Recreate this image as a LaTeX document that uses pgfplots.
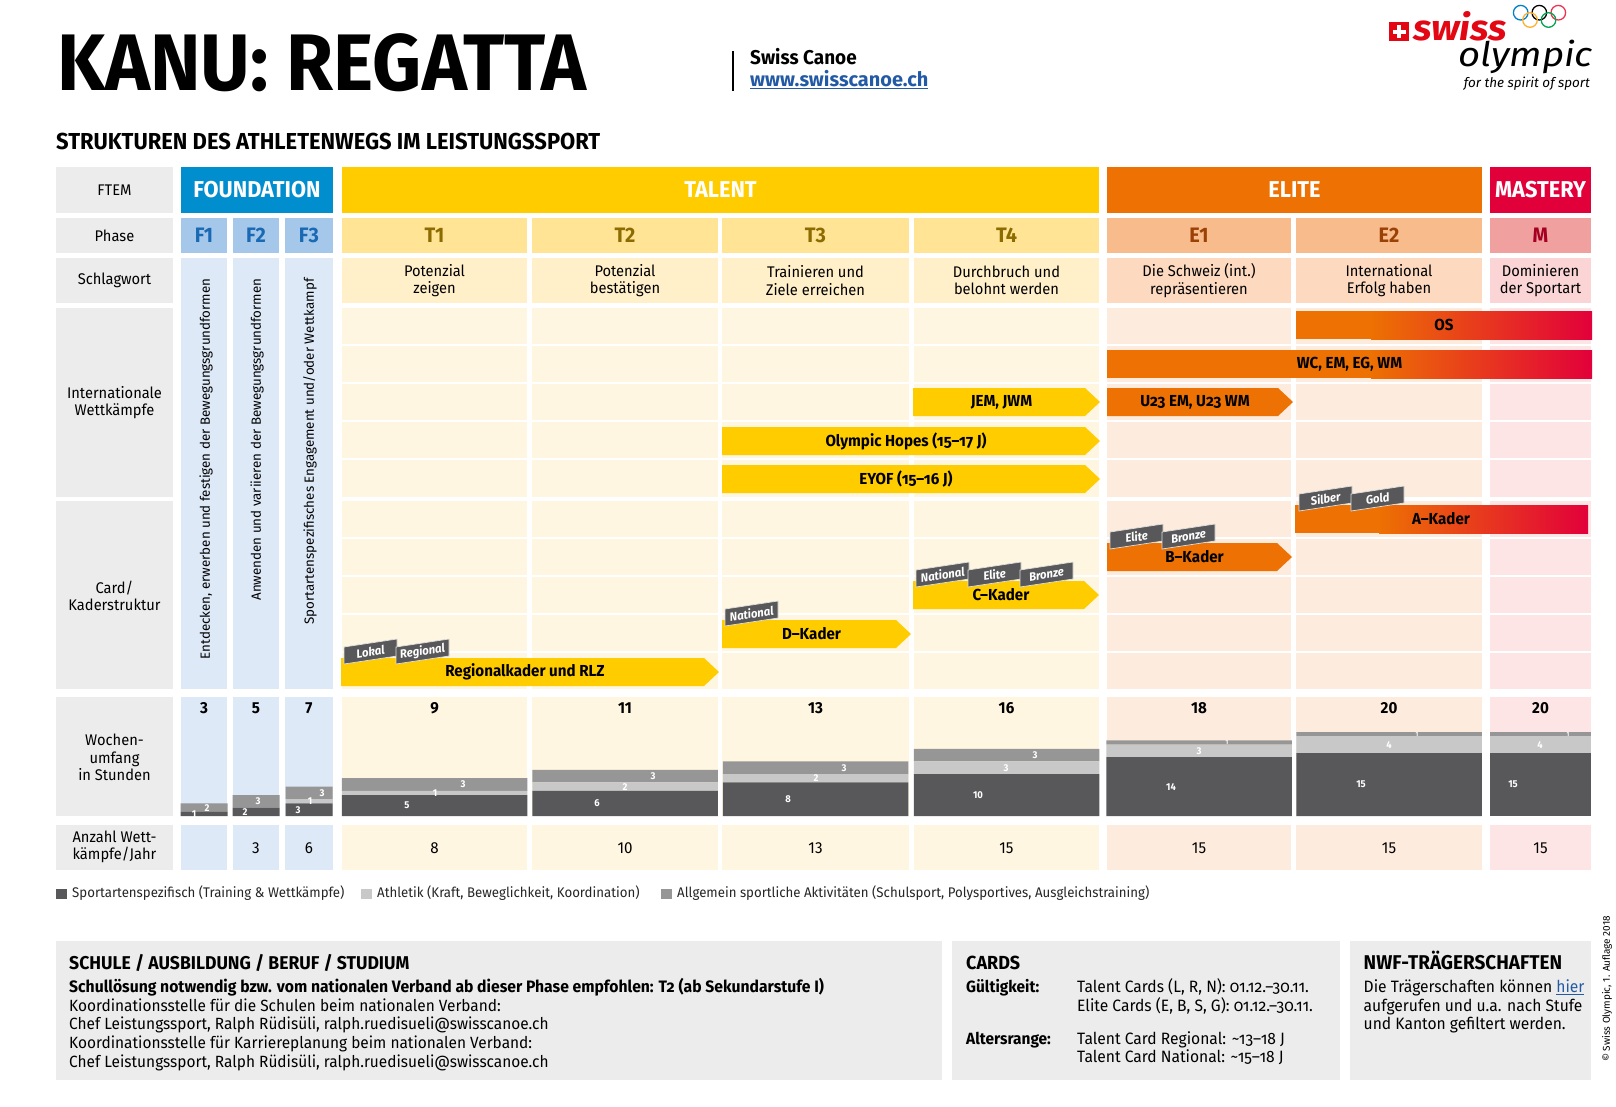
\documentclass[border=0pt]{standalone}
\usepackage{pgfplots}
\pgfplotsset{compat=1.18}
\usepackage{pgfplotstable}
\usepackage{fontspec}
\setmainfont{Fira Sans}[FakeStretch=0.95]
\newfontfamily\plainfont{Fira Sans}
\newcommand{\fsz}[2]{\fontsize{#1}{#2}\selectfont}
\newcommand{\osn}{\addfontfeature{Numbers=OldStyle}}

\definecolor{hdrgray}{RGB}{236,236,236}
\definecolor{fblue}{RGB}{0,142,207}
\definecolor{phF}{RGB}{165,200,234}
\definecolor{bgF}{RGB}{221,233,247}
\definecolor{txF}{RGB}{25,105,180}
\definecolor{tyel}{RGB}{255,204,0}
\definecolor{phT}{RGB}{255,228,150}
\definecolor{swT}{RGB}{255,240,202}
\definecolor{bgT}{RGB}{255,246,225}
\definecolor{txT}{RGB}{140,108,0}
\definecolor{eor}{RGB}{237,113,3}
\definecolor{phE}{RGB}{248,187,140}
\definecolor{swE}{RGB}{253,218,191}
\definecolor{bgE}{RGB}{253,236,222}
\definecolor{txE}{RGB}{155,65,5}
\definecolor{mred}{RGB}{226,0,58}
\definecolor{phM}{RGB}{241,160,160}
\definecolor{swM}{RGB}{251,213,213}
\definecolor{bgM}{RGB}{253,229,229}
\definecolor{txM}{RGB}{165,0,35}
\definecolor{cspec}{RGB}{88,88,90}
\definecolor{cath}{RGB}{200,200,200}
\definecolor{cgen}{RGB}{150,150,150}
\definecolor{tagc}{RGB}{88,88,90}
\definecolor{linkblue}{RGB}{35,90,165}
\definecolor{boxgray}{RGB}{236,236,236}
\definecolor{swissred}{RGB}{227,6,19}

% weekly hours per phase: x = column centre (px), hours per category
\pgfplotstableread{
x     spec ath gen
204   1    0   2
256   2    0   3
309   3    1   3
}\Fdata
\pgfplotstableread{
x      spec ath gen
434.5  5    1   3
625    6    2   3
815.5  8    2   3
1006.5 10   3   3
1199   14   3   1
1389   15   4   1
}\TEdata
\pgfplotstableread{
x      spec ath gen
1540.5 15   4   1
}\Mdata

\newcommand{\arrfont}{\fsz{16}{16}\bfseries\osn}
\newcommand{\arr}[6]{%
  \fill[#1] (#2,#4) -- ({#3-15},#4) -- (#3,{(#4+#5)/2}) -- ({#3-15},#5) -- (#2,#5) -- cycle;
  \node[font=\arrfont] at ({(#2+#3)/2-5},{(#4+#5)/2}) {#6};}
\newcommand{\gbar}[5]{%
  \fill[eor] (#1,#3) rectangle (1372,#4);
  \shade[left color=eor,right color=mred] (1371,#3) rectangle (#2,#4);
  \node[font=\arrfont] at ({(#1+#2)/2},{(#3+#4)/2}) {#5};}
\newcommand{\tagf}[3]{%
  \fill[tagc,draw=white!75!gray,line width=0.7] (#1,{#2+6}) -- (#1,{#2-11}) -- ({#1+53},{#2-19}) -- ({#1+53},{#2-2}) -- cycle;
  \node[rotate=8.6,font=\fsz{12}{12}\bfseries\itshape,text=white,inner sep=0] at ({#1+26.5},{#2-6.5}) {#3};}

\begin{document}
\begin{tikzpicture}[x=1bp,y=-1bp]
\useasboundingbox (0,0) rectangle (1616,1106);
\fill[white] (0,0) rectangle (1616,1106);

% ---------- header ----------
\node[anchor=base west,inner sep=0] at (57,90.7) {\fsz{80.5}{81}\bfseries KANU: REGATTA};
\draw[line width=1.6] (733,51) -- (733,91);
\node[anchor=base west,inner sep=0] at (750,64) {\fsz{20}{20}\bfseries Swiss Canoe};
\node[anchor=base west,inner sep=0,text=linkblue] at (750,86.6) {\plainfont\fsz{20}{20}\bfseries\underline{www.swisscanoe.ch}};

% logo
\fill[swissred] (1389,22) rectangle (1409,41);
\fill[white] (1397,25) rectangle (1401,38);
\fill[white] (1392.5,29.5) rectangle (1405.5,33.5);
\foreach \cx/\cy/\cc in {1520.7/12.7/{rgb,255:red,0;green,129;blue,200},1539.3/12.7/black,1558.3/12.7/{rgb,255:red,238;green,51;blue,78},1530/20/{rgb,255:red,252;green,177;blue,49},1548.5/20/{rgb,255:red,0;green,166;blue,81}}
  \draw[line width=1.3,color=\cc] (\cx,\cy) circle (7.3);
\node[anchor=base west,inner sep=0] at (1413,40.5) {\plainfont\itshape\makebox[0pt][l]{\scalebox{1.08}[1]{\color{swissred}\fsz{36}{36}\bfseries swiss}}\hspace{45bp}\raisebox{-26bp}{\scalebox{1.13}[1]{\fsz{34}{34}olympic}}};
\node[anchor=base east,inner sep=0] at (1590,87.5) {\plainfont\fsz{13.5}{14}\itshape for the spirit of sport};

\node[anchor=base west,inner sep=0] at (56,149.5) {\fsz{23.2}{23}\bfseries STRUKTUREN DES ATHLETENWEGS IM LEISTUNGSSPORT};

% ---------- row headers ----------
\fill[hdrgray] (56,167) rectangle (173,213);
\fill[hdrgray] (56,218) rectangle (173,253);
\fill[hdrgray] (56,258) rectangle (173,303);
\fill[hdrgray] (56,308) rectangle (173,497);
\fill[hdrgray] (56,501) rectangle (173,689);
\fill[hdrgray] (56,697) rectangle (173,816);
\fill[hdrgray] (56,825) rectangle (173,870);
\node[font=\fsz{15.5}{17.5}] at (114.5,190) {FTEM};
\node[font=\fsz{15.5}{17.5}] at (114.5,235.5) {Phase};
\node[font=\fsz{15.5}{17.5}] at (114.5,280.5) {Schlagwort};
\node[font=\fsz{15.5}{17.5},align=center] at (114.5,402.5) {Internationale\\Wettkämpfe};
\node[font=\fsz{15.5}{17.5},align=center] at (114.5,596) {Card/\\Kaderstruktur};
\node[font=\fsz{15.5}{17.5},align=center] at (114.5,757.5) {Wochen-\\umfang\\in Stunden};
\node[font=\fsz{15.5}{17.5},align=center] at (114.5,847) {Anzahl Wett-\\kämpfe/Jahr};

% ---------- FTEM row ----------
\fill[fblue] (181,167) rectangle (333,213);
\fill[tyel] (342,167) rectangle (1099,213);
\fill[eor] (1107,167) rectangle (1482,213);
\fill[mred] (1490,167) rectangle (1591,213);
\node[text=white,font=\fsz{23}{23}\bfseries] at (257,190) {FOUNDATION};
\node[text=white,font=\fsz{23}{23}\bfseries] at (720.5,190) {TALENT};
\node[text=white,font=\fsz{23}{23}\bfseries] at (1294.5,190) {ELITE};
\node[text=white,font=\fsz{23}{23}\bfseries] at (1540.5,190) {MASTERY};

% ---------- foundation columns ----------
\foreach \xa/\xb/\lab in {181/227/F1,233/279/F2,285/333/F3}{
  \fill[phF] (\xa,218) rectangle (\xb,253);
  \node[text=txF,font=\fsz{21}{21}\bfseries] at ({(\xa+\xb)/2},235.5) {\lab};
  \fill[bgF] (\xa,258) rectangle (\xb,689);
  \fill[bgF] (\xa,697) rectangle (\xb,816);
  \fill[bgF] (\xa,825) rectangle (\xb,870);
}
\node[rotate=90,anchor=east,font=\plainfont\fsz{13.4}{14}] at (206,275) {Entdecken, erwerben und festigen der Bewegungsgrundformen};
\node[rotate=90,anchor=east,font=\plainfont\fsz{13.4}{14}] at (257,275) {Anwenden und variieren der Bewegungsgrundformen};
\node[rotate=90,anchor=east,font=\plainfont\fsz{13.4}{14}] at (310,275) {Sportartenspezifisches Engagement und/oder Wettkampf};

% ---------- T / E / M columns ----------
\foreach \xa/\xb/\ph/\sw/\bg/\lab/\tx in {342/527/phT/swT/bgT/T1/txT,532/718/phT/swT/bgT/T2/txT,722/909/phT/swT/bgT/T3/txT,914/1099/phT/swT/bgT/T4/txT,1107/1291/phE/swE/bgE/E1/txE,1296/1482/phE/swE/bgE/E2/txE,1490/1591/phM/swM/bgM/M/txM}{
  \fill[\ph] (\xa,218) rectangle (\xb,253);
  \node[text=\tx,font=\fsz{21}{21}\bfseries] at ({(\xa+\xb)/2},235.5) {\lab};
  \fill[\sw] (\xa,258) rectangle (\xb,303);
  \foreach \ya/\yb in {308/344,346/382,384/420,422/458,460/497,501/537,539/575,577/613,615/651,653/689}
    \fill[\bg] (\xa,\ya) rectangle (\xb,\yb);
  \fill[\bg] (\xa,697) rectangle (\xb,816);
  \fill[\bg] (\xa,825) rectangle (\xb,870);
}
\foreach \cx/\txt in {434.5/{Potenzial\\zeigen},625/{Potenzial\\bestätigen},815.5/{Trainieren und\\Ziele erreichen},1006.5/{Durchbruch und\\belohnt werden},1199/{Die Schweiz (int.)\\repräsentieren},1389/{International\\Erfolg haben},1540.5/{Dominieren\\der Sportart}}
  \node[align=center,font=\fsz{15.5}{17.5}] at (\cx,280.5) {\txt};

% ---------- international competitions ----------
\gbar{1296}{1592}{311}{339}{OS}
\gbar{1107}{1592}{350}{378}{WC, EM, EG, WM}
\arr{tyel}{913}{1100}{388}{416}{JEM, JWM}
\arr{eor}{1107}{1293}{388}{416}{U23 EM, U23 WM}
\arr{tyel}{722}{1100}{427}{455}{Olympic Hopes (15–17 J)}
\arr{tyel}{722}{1100}{465}{493}{EYOF (15–16 J)}

% ---------- cards ----------
\fill[eor] (1295,505) rectangle (1380,533);
\shade[left color=eor,right color=mred] (1379,505) rectangle (1588,533);
\node[font=\arrfont] at (1441,519) {A–Kader};
\tagf{1299}{505}{Silber}
\tagf{1351}{505}{Gold}
\arr{eor}{1107}{1292}{543}{571}{B–Kader}
\tagf{1110}{543}{Elite}
\tagf{1162}{543}{Bronze}
\arr{tyel}{913}{1099}{581}{609}{C–Kader}
\tagf{916}{581}{National}
\tagf{968}{581}{Elite}
\tagf{1020}{581}{Bronze}
\arr{tyel}{722}{911}{620}{648}{D–Kader}
\tagf{725}{620}{National}
\arr{tyel}{341}{719}{658}{686}{Regionalkader und RLZ}
\tagf{344}{658}{Lokal}
\tagf{396}{658}{Regional}

% ---------- weekly hours (stacked bars) ----------
\begin{scope}[x=1cm,y=1cm]
\pgfplotsset{baraxbase/.style={at={(0bp,-816bp)},anchor=south west,scale only axis,
  width=1616bp,height=105bp,xmin=0,xmax=1616,ymin=0,ymax=25,hide axis,clip=false},
  barax/.style={baraxbase,ybar stacked}}
\begin{axis}[barax,bar width=47]
\addplot[fill=cspec,draw=none] table[x=x,y=spec]{\Fdata};
\addplot[fill=cath,draw=none] table[x=x,y=ath]{\Fdata};
\addplot[fill=cgen,draw=none] table[x=x,y=gen]{\Fdata};
\end{axis}
\begin{axis}[barax,bar width=185.5]
\addplot[fill=cspec,draw=none] table[x=x,y=spec]{\TEdata};
\addplot[fill=cath,draw=none] table[x=x,y=ath]{\TEdata};
\addplot[fill=cgen,draw=none] table[x=x,y=gen]{\TEdata};
\end{axis}
\begin{axis}[barax,bar width=101]
\addplot[fill=cspec,draw=none] table[x=x,y=spec]{\Mdata};
\addplot[fill=cath,draw=none] table[x=x,y=ath]{\Mdata};
\addplot[fill=cgen,draw=none] table[x=x,y=gen]{\Mdata};
\end{axis}
\begin{axis}[baraxbase]
\foreach \lx/\ly/\lt in {194/0.5/1,207/2/2,245/1/2,258/3.5/3,298/1.5/3,310/3.5/1,322/5.5/3,
  407/2.5/5,435/5.5/1,463/7.5/3,597/3/6,625/7/2,653/9.5/3,788/4/8,816/9/2,844/11.5/3,
  978/5/10,1006/11.5/3,1035/14.5/3,1171/7/14,1199/15.5/3,1361/7.5/15,1389/17/4,1513/7.5/15,1540/17/4}{
  \edef\tmp{\noexpand\node[text=white,font=\noexpand\fsz{10}{10}\noexpand\bfseries,inner sep=0] at (axis cs:\lx,\ly) {\lt};}
  \tmp}
\foreach \lx/\ly in {1227/17.5,1417/19.5,1568/19.5}{
  \edef\tmp{\noexpand\node[text=white,font=\noexpand\fsz{6}{6}\noexpand\bfseries,inner sep=0] at (axis cs:\lx,\ly) {1};}
  \tmp}
\end{axis}
\end{scope}

% totals and competitions per year
\foreach \cx/\v in {204/3,256/5,309/7,434.5/9,625/11,815.5/13,1006.5/16,1199/18,1389/20,1540.5/20}
  \node[font=\fsz{16}{16}\bfseries] at (\cx,708) {\v};
\foreach \cx/\v in {256/3,309/6,434.5/8,625/10,815.5/13,1006.5/15,1199/15,1389/15,1540.5/15}
  \node[font=\fsz{16}{16}] at (\cx,848) {\v};

% ---------- legend ----------
\fill[cspec] (56,888.5) rectangle (66.5,899);
\node[anchor=west,inner sep=0,font=\fsz{14}{14},text=black!85] at (72,893.5) {Sportartenspezifisch (Training \& Wettkämpfe)};
\fill[cath] (361,888.5) rectangle (371.5,899);
\node[anchor=west,inner sep=0,font=\fsz{14}{14},text=black!85] at (377,893.5) {Athletik (Kraft, Beweglichkeit, Koordination)};
\fill[cgen] (661,888.5) rectangle (671.5,899);
\node[anchor=west,inner sep=0,font=\fsz{14}{14},text=black!85] at (677,893.5) {Allgemein sportliche Aktivitäten (Schulsport, Polysportives, Ausgleichstraining)};

% ---------- bottom boxes ----------
\fill[boxgray] (56,941) rectangle (942,1080);
\fill[boxgray] (952,941) rectangle (1340,1080);
\fill[boxgray] (1350,941) rectangle (1591,1080);
\begin{scope}[every node/.style={anchor=base west,inner sep=0}]
\node at (69,969) {\fsz{18.6}{19}\bfseries SCHULE / AUSBILDUNG / BERUF / STUDIUM};
\node at (69,992.5) {\fsz{16.6}{16}\bfseries\osn Schullösung notwendig bzw. vom nationalen Verband ab dieser Phase empfohlen: T2 (ab Sekundarstufe I)};
\node at (69,1011) {\fsz{16.3}{16}Koordinationsstelle für die Schulen beim nationalen Verband:};
\node at (69,1029.6) {\fsz{16.3}{16}Chef Leistungssport, Ralph Rüdisüli, ralph.ruedisueli@swisscanoe.ch};
\node at (69,1048) {\fsz{16.3}{16}Koordinationsstelle für Karriereplanung beim nationalen Verband:};
\node at (69,1067.7) {\fsz{16.3}{16}Chef Leistungssport, Ralph Rüdisüli, ralph.ruedisueli@swisscanoe.ch};
\node at (966,969) {\fsz{19}{19}\bfseries CARDS};
\node at (966,992.5) {\fsz{16.3}{16}\bfseries Gültigkeit:};
\node at (1077,992.5) {\fsz{16.5}{16}\osn Talent Cards (L, R, N): 01.12.–30.11.};
\node at (1077,1011) {\fsz{16.5}{16}\osn Elite Cards (E, B, S, G): 01.12.–30.11.};
\node at (966,1044) {\fsz{16.3}{16}\bfseries Altersrange:};
\node at (1077,1044) {\fsz{16.5}{16}\osn Talent Card Regional: \textasciitilde13–18 J};
\node at (1077,1062.5) {\fsz{16.5}{16}\osn Talent Card National: \textasciitilde15–18 J};
\node at (1363.5,969) {\fsz{20}{20}\bfseries NWF-TRÄGERSCHAFTEN};
\node at (1363.5,992.5) {\fsz{16.5}{16}Die Trägerschaften können \textcolor{linkblue}{\underline{hier}}};
\node at (1363.5,1011) {\fsz{16.5}{16}aufgerufen und u.a. nach Stufe};
\node at (1363.5,1029.6) {\fsz{16.5}{16}und Kanton gefiltert werden.};
\end{scope}
\node[rotate=90,font=\plainfont\fsz{10}{10}] at (1607,989) {© Swiss Olympic, 1. Auflage 2018};
\end{tikzpicture}
\end{document}
